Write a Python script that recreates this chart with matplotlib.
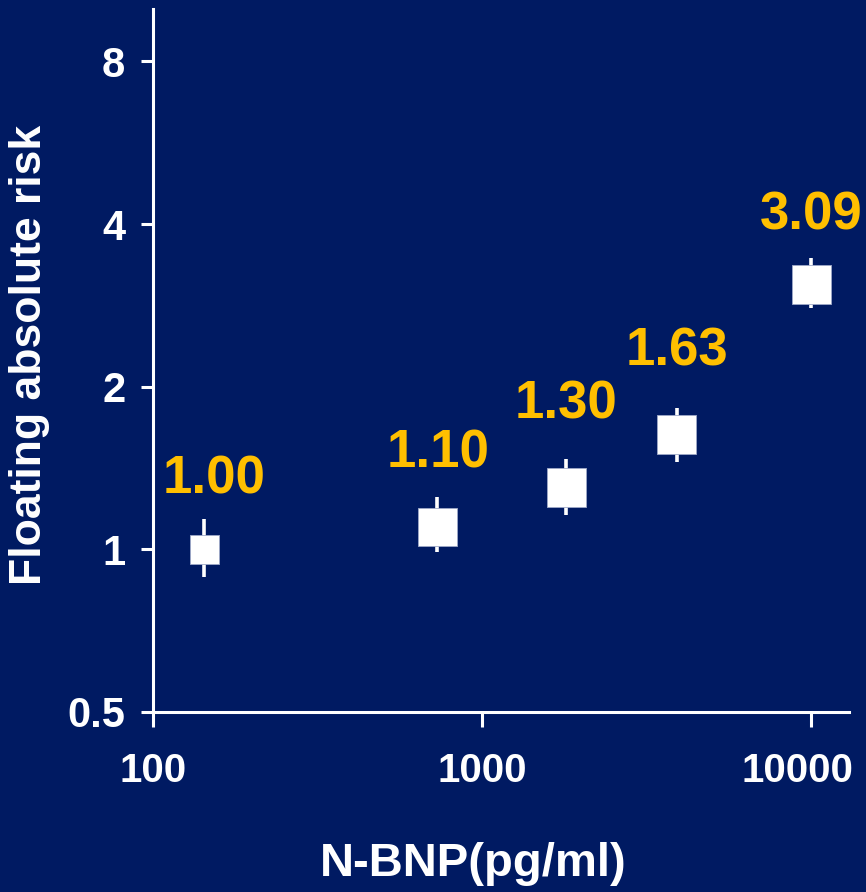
import matplotlib.pyplot as plt
from matplotlib.transforms import ScaledTranslation

# N-BNP category midpoints (pg/ml) and floating absolute risk with 95% CI
nbnp = [143, 730, 1800, 3900, 10000]
risk = [1.00, 1.10, 1.30, 1.63, 3.09]
ci_low = [0.89, 0.99, 1.16, 1.45, 2.80]
ci_high = [1.14, 1.25, 1.47, 1.83, 3.46]
risk_labels = ["1.00", "1.10", "1.30", "1.63", "3.09"]

x_ticks = [100, 1000, 10000]
y_ticks = [0.5, 1, 2, 4, 8]

bg = "#001a62"
gold = "#ffbf00"
plt.rcParams["font.family"] = ["Liberation Sans", "DejaVu Sans"]
plt.rcParams["font.weight"] = "bold"

fig = plt.figure(figsize=(8.66, 8.92), dpi=100, facecolor=bg)
ax = fig.add_axes([0.1767, 0.2018, 0.8033, 0.7881])
ax.set_facecolor(bg)
ax.set_xscale("log")
ax.set_yscale("log")
ax.set_xlim(100, 13000)
ax.set_ylim(0.5, 10)

# confidence intervals then the square markers on top
ax.vlines(nbnp, ci_low, ci_high, color="white", lw=2.6, zorder=2)
msizes = [21, 28, 28, 28, 28]
ax.scatter(nbnp, risk, marker="s", s=[m ** 2 for m in msizes],
           color="white", edgecolor="#9fa9c8", linewidths=0.6, zorder=3)

label_offsets = [(7, 40), (1, 43), (0, 50), (0, 50), (0, 40)]
for xv, yv, txt, off in zip(nbnp, risk, risk_labels, label_offsets):
    ax.annotate(txt, (xv, yv), xytext=off, textcoords="offset points",
                ha="center", va="baseline", color=gold, fontsize=38,
                fontweight="bold")

for side in ["top", "right"]:
    ax.spines[side].set_visible(False)
for side in ["left", "bottom"]:
    ax.spines[side].set_color("white")
    ax.spines[side].set_linewidth(2.2)

ax.set_xticks(x_ticks)
ax.set_xticklabels([str(t) for t in x_ticks])
ax.set_yticks(y_ticks)
ax.set_yticklabels(["0.5", "1", "2", "4", "8"])
ax.minorticks_off()
ax.tick_params(axis="x", colors="white", labelsize=29, length=11, width=2.2, pad=18)
ax.tick_params(axis="y", colors="white", labelsize=30, length=9, width=2.2, pad=11)
for lab in ax.get_xticklabels() + ax.get_yticklabels():
    lab.set_fontweight("bold")

# pull the last x label in so it stays inside the figure
last = ax.get_xticklabels()[-1]
last.set_transform(last.get_transform() + ScaledTranslation(-10 / 72, 0, fig.dpi_scale_trans))

ax.set_xlabel("N-BNP(pg/ml)", color="white", fontsize=34, fontweight="bold")
ax.xaxis.set_label_coords(0.46, -0.185)
ax.set_ylabel("Floating absolute risk", color="white", fontsize=32, fontweight="bold")
ax.yaxis.label.set_va("center")
ax.yaxis.set_label_coords(-0.177, 0.508)

fig.savefig("out.png", dpi=100, facecolor=bg)
